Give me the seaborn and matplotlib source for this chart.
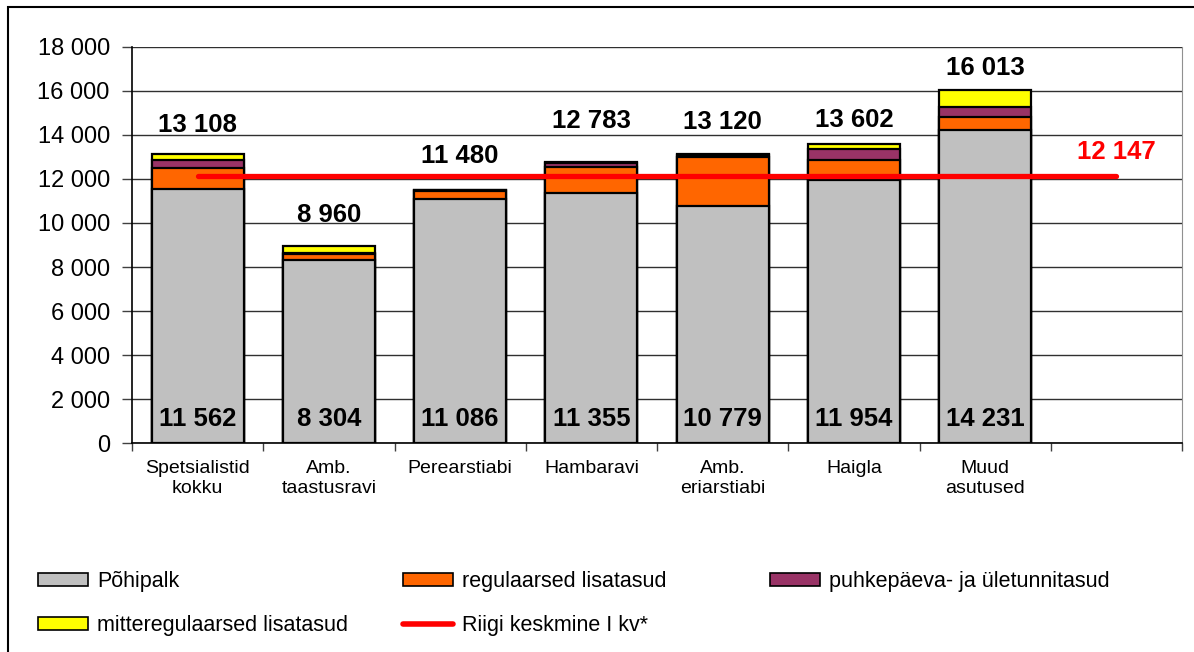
import numpy as np
import pandas as pd
import matplotlib
matplotlib.use("Agg")
import matplotlib.pyplot as plt
import seaborn as sns
from matplotlib.patches import Patch, Rectangle
from matplotlib.lines import Line2D

# ------------------------
# Data
# ------------------------
CATEGORIES = ["Spetsialistid\nkokku", "Amb.\ntaastusravi", "Perearstiabi", "Hambaravi",
              "Amb.\neriarstiabi", "Haigla", "Muud\nasutused"]
POHIPALK = [11562, 8304, 11086, 11355, 10779, 11954, 14231]
REGULAARSED = [930, 300, 380, 1200, 2210, 910, 600]
PUHKEPAEVA = [345, 20, 10, 170, 80, 480, 410]
MITTEREGULAARSED = [271, 336, 4, 58, 51, 258, 772]
RIIGI_KESKMINE = 12147
SERIES_NAMES = ["Põhipalk", "regulaarsed lisatasud", "puhkepäeva- ja ületunnitasud",
                "mitteregulaarsed lisatasud", "Riigi keskmine I kv*"]
Y_TICKS = list(range(0, 18001, 2000))

# ------------------------
# Style
# ------------------------
COLORS = ["#C0C0C0", "#FF6600", "#993366", "#FFFF00"]
RED = "#FF0000"
TOTAL_LABEL_LIFT = [1340, 1380, 1580, 1860, 1470, 1050, 1000]  # label offsets above bars

sns.set_style("white")
plt.rcParams["font.family"] = ["Liberation Sans", "DejaVu Sans"]
plt.rcParams["text.color"] = "black"
plt.rcParams["xtick.color"] = "black"
plt.rcParams["ytick.color"] = "black"
plt.rcParams["axes.labelcolor"] = "black"

def fmt(v):
    return f"{v:,}".replace(",", " ")

df = pd.DataFrame({
    "kategooria": CATEGORIES,
    "pohipalk": POHIPALK,
    "regulaarsed": REGULAARSED,
    "puhkepaeva": PUHKEPAEVA,
    "mitteregulaarsed": MITTEREGULAARSED,
})
layers = ["pohipalk", "regulaarsed", "puhkepaeva", "mitteregulaarsed"]
cum = df[layers].cumsum(axis=1)
df["kokku"] = cum["mitteregulaarsed"]

fig = plt.figure(figsize=(11.94, 6.52), dpi=100)
ax = fig.add_axes([132 / 1194, 1 - 443.3 / 652, 1050 / 1194, 396.6 / 652])

# stacked bars: paint cumulative totals from the top layer down
for layer, color in reversed(list(zip(layers, COLORS))):
    sns.barplot(x=df["kategooria"], y=cum[layer], color=color, saturation=1,
                edgecolor="black", linewidth=1.6, width=0.7, errorbar=None,
                order=CATEGORIES, ax=ax, zorder=3)

# national average line, from first category to the empty last slot
n = len(CATEGORIES)
sns.lineplot(x=[0, n], y=[RIIGI_KESKMINE, RIIGI_KESKMINE], color=RED, linewidth=3.8,
             ax=ax, zorder=5, solid_capstyle="round")
ax.text(n, RIIGI_KESKMINE + 1070, fmt(RIIGI_KESKMINE), color=RED, fontsize=18.5,
        fontweight="bold", ha="center", va="center")

# value labels
for i, row in df.iterrows():
    ax.text(i, row["kokku"] + TOTAL_LABEL_LIFT[i], fmt(int(row["kokku"])), fontsize=18.5,
            fontweight="bold", ha="center", va="center", zorder=6, color="black")
    ax.text(i, 1100, fmt(int(row["pohipalk"])), fontsize=18.5, fontweight="bold",
            ha="center", va="center", zorder=6, color="black")

# axes
ax.set_xlim(-0.5, n + 0.5)
ax.set_ylim(0, 18000)
ax.set_yticks(Y_TICKS)
ax.set_yticklabels([fmt(t) for t in Y_TICKS], fontsize=17)
ax.set_xticks(np.arange(-0.5, n + 1, 1))
ax.set_xticklabels([])
ax.set_xticks(np.arange(n), minor=True)
ax.set_xticklabels(CATEGORIES, minor=True, fontsize=14)
ax.tick_params(axis="x", which="major", direction="out", length=6, width=1, color="#404040", bottom=True)
ax.tick_params(axis="x", which="minor", length=0, pad=12)
ax.tick_params(axis="y", direction="out", length=7, width=1, color="#404040", left=True, pad=9)
ax.set_xlabel("")
ax.set_ylabel("")
ax.yaxis.grid(True, color="#303030", linewidth=1)
ax.set_axisbelow(True)
for side in ["left", "bottom"]:
    ax.spines[side].set_color("black")
    ax.spines[side].set_linewidth(1.2)
ax.spines["top"].set_visible(False)
ax.spines["right"].set_color("#909090")
ax.spines["right"].set_zorder(0)

# legend, entries placed like the original layout
handles = [Patch(facecolor=c, edgecolor="black", linewidth=1.2) for c in COLORS]
handles.append(Line2D([0], [0], color=RED, linewidth=4, solid_capstyle="round"))
legend_pos = [(38, 582), (403, 582), (770, 582), (38, 626), (403, 626)]
for h, name, (px, py) in zip(handles, SERIES_NAMES, legend_pos):
    fig.legend(handles=[h], labels=[name], loc="center left",
               bbox_to_anchor=(px / 1194, 1 - py / 652), frameon=False, fontsize=15.5,
               borderpad=0, borderaxespad=0, handlelength=2.3, handleheight=0.55,
               handletextpad=0.45, labelcolor="black")

# outer chart frame
fig.patches.append(Rectangle((8 / 1194, -0.05), 1.2, 1.05 - 7 / 652, transform=fig.transFigure,
                             fill=False, edgecolor="black", linewidth=1.5))

fig.savefig("out.png", dpi=100)
